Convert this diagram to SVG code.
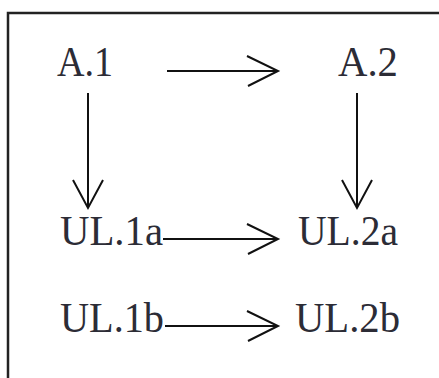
<svg xmlns="http://www.w3.org/2000/svg" width="439" height="378" viewBox="0 0 439 378">
<style>
text{font-family:"Liberation Serif","DejaVu Serif",serif;font-size:43px;fill:#2c2c36}
.c line,.c polyline{stroke:#111;stroke-width:2;fill:none}
</style>
<rect width="439" height="378" fill="#fff"/>
<g id="frame"><polyline points="8,378 8,13 439,13" fill="none" stroke="#222" stroke-width="2.5"/></g>
<g id="A1"><text x="57" y="76" textLength="56" lengthAdjust="spacingAndGlyphs">A.1</text></g>
<g id="A2"><text x="338" y="76" textLength="60" lengthAdjust="spacingAndGlyphs">A.2</text></g>
<g id="UL1a"><text x="60" y="245" textLength="103" lengthAdjust="spacingAndGlyphs">UL.1a</text></g>
<g id="UL2a"><text x="298" y="245" textLength="100" lengthAdjust="spacingAndGlyphs">UL.2a</text></g>
<g id="UL1b"><text x="60" y="332" textLength="104" lengthAdjust="spacingAndGlyphs">UL.1b</text></g>
<g id="UL2b"><text x="295" y="332" textLength="105" lengthAdjust="spacingAndGlyphs">UL.2b</text></g>
<g id="connectors" class="c">
<line x1="167" y1="71" x2="278" y2="71"/><polyline points="247,56 278,71 248,86"/>
<line x1="88" y1="93" x2="88" y2="208"/><polyline points="73,180 88,208 103,180"/>
<line x1="357" y1="93" x2="357" y2="208"/><polyline points="342,180 357,208 372,180"/>
<line x1="163" y1="239" x2="278" y2="239"/><polyline points="247,224 278,239 248,254"/>
<line x1="165" y1="326" x2="278" y2="326"/><polyline points="247,311 278,326 248,341"/>
</g>
</svg>
